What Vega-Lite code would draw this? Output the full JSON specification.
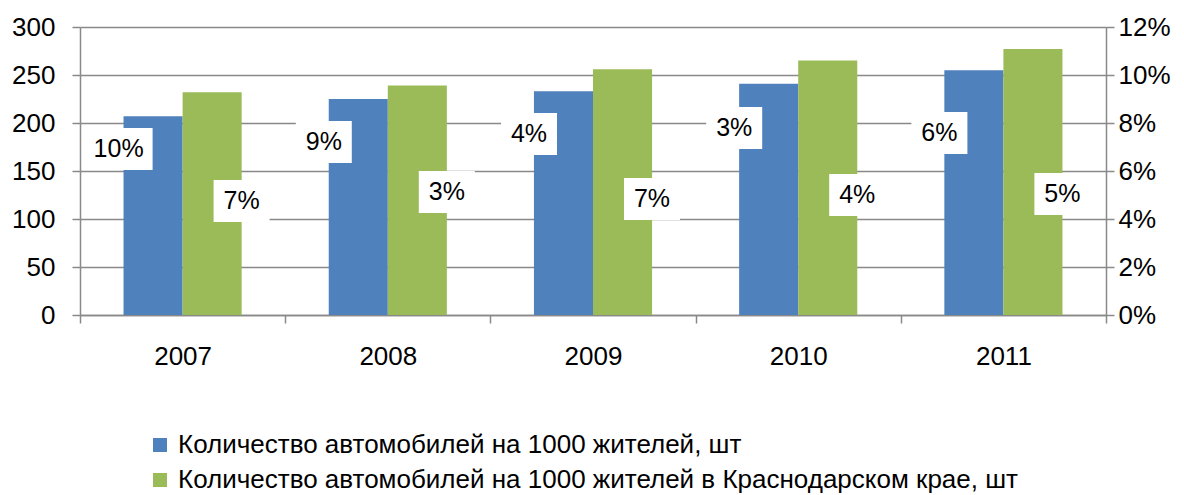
{
  "$schema": "https://vega.github.io/schema/vega-lite/v6.json",
  "autosize": {"type": "none"},
  "width": 1026,
  "height": 288,
  "padding": {"left": 80, "top": 27, "right": 78, "bottom": 180},
  "background": "white",
  "config": {
    "view": {"stroke": null},
    "font": "Liberation Sans",
    "axis": {
      "labelFont": "Liberation Sans",
      "labelFontSize": 26,
      "labelColor": "#000000",
      "domainColor": "#898989",
      "domainWidth": 1.5,
      "tickColor": "#898989",
      "tickWidth": 1.5,
      "tickSize": 8,
      "gridColor": "#898989",
      "gridWidth": 1.5,
      "title": null
    }
  },
  "data": {
    "values": [
      {"year": "2007", "series": "Количество автомобилей на 1000 жителей, шт", "value": 207, "growth": "10%", "level": 0.0692},
      {"year": "2007", "series": "Количество автомобилей на 1000 жителей в Краснодарском крае, шт", "value": 232, "growth": "7%", "level": 0.0475},
      {"year": "2008", "series": "Количество автомобилей на 1000 жителей, шт", "value": 225, "growth": "9%", "level": 0.0721},
      {"year": "2008", "series": "Количество автомобилей на 1000 жителей в Краснодарском крае, шт", "value": 239, "growth": "3%", "level": 0.0513},
      {"year": "2009", "series": "Количество автомобилей на 1000 жителей, шт", "value": 233, "growth": "4%", "level": 0.0754},
      {"year": "2009", "series": "Количество автомобилей на 1000 жителей в Краснодарском крае, шт", "value": 256, "growth": "7%", "level": 0.0483},
      {"year": "2010", "series": "Количество автомобилей на 1000 жителей, шт", "value": 241, "growth": "3%", "level": 0.0779},
      {"year": "2010", "series": "Количество автомобилей на 1000 жителей в Краснодарском крае, шт", "value": 265, "growth": "4%", "level": 0.05},
      {"year": "2011", "series": "Количество автомобилей на 1000 жителей, шт", "value": 255, "growth": "6%", "level": 0.0758},
      {"year": "2011", "series": "Количество автомобилей на 1000 жителей в Краснодарском крае, шт", "value": 277, "growth": "5%", "level": 0.0504}
    ]
  },
  "encoding": {
    "x": {
      "field": "year",
      "type": "nominal",
      "scale": {"paddingInner": 0, "paddingOuter": 0},
      "axis": {"labelAngle": 0, "tickBand": "extent", "labelPadding": 20, "domain": true}
    }
  },
  "layer": [
    {
      "mark": {"type": "bar"},
      "encoding": {
        "xOffset": {
          "field": "series",
          "type": "nominal",
          "scale": {"domain": ["Количество автомобилей на 1000 жителей, шт", "Количество автомобилей на 1000 жителей в Краснодарском крае, шт"], "paddingInner": 0, "paddingOuter": 0.7373}
        },
        "y": {
          "field": "value",
          "type": "quantitative",
          "scale": {"domain": [0, 300], "nice": false},
          "axis": {"orient": "left", "values": [0, 50, 100, 150, 200, 250, 300], "grid": true, "labelPadding": 17, "domain": true}
        },
        "color": {
          "field": "series",
          "type": "nominal",
          "scale": {
            "domain": ["Количество автомобилей на 1000 жителей, шт", "Количество автомобилей на 1000 жителей в Краснодарском крае, шт"],
            "range": ["#4F81BD", "#9BBB59"]
          },
          "legend": {
            "orient": "none",
            "legendX": 67,
            "legendY": 405,
            "title": null,
            "direction": "vertical",
            "symbolType": "square",
            "symbolSize": 196,
            "symbolStrokeWidth": 0,
            "labelFont": "Liberation Sans",
            "labelFontSize": 26,
            "labelColor": "#000000",
            "labelLimit": 0,
            "labelOffset": 5,
            "rowPadding": 9
          }
        }
      }
    },
    {
      "encoding": {
        "y": {
          "field": "level",
          "type": "quantitative",
          "scale": {"domain": [0, 0.12], "nice": false},
          "axis": {"orient": "right", "format": ".0%", "values": [0, 0.02, 0.04, 0.06, 0.08, 0.1, 0.12], "grid": false, "labelPadding": 4, "domain": true}
        }
      },
      "layer": [
        {
          "transform": [{"filter": "datum.series == 'Количество автомобилей на 1000 жителей, шт'"}],
          "mark": {"type": "point", "filled": true, "fill": "white", "opacity": 1, "strokeWidth": 0, "xOffset": -64},
          "encoding": {
            "shape": {"condition": {"test": "length(datum.growth) > 2", "value": "M-1,-0.6176H1V0.6176H-1Z"}, "value": "M-1,-0.75H1V0.75H-1Z"},
            "size": {"condition": {"test": "length(datum.growth) > 2", "value": 4624}, "value": 3136}
          }
        },
        {
          "transform": [{"filter": "datum.series != 'Количество автомобилей на 1000 жителей, шт'"}],
          "mark": {"type": "point", "filled": true, "fill": "white", "opacity": 1, "strokeWidth": 0, "xOffset": 59},
          "encoding": {
            "shape": {"condition": {"test": "length(datum.growth) > 2", "value": "M-1,-0.6176H1V0.6176H-1Z"}, "value": "M-1,-0.75H1V0.75H-1Z"},
            "size": {"condition": {"test": "length(datum.growth) > 2", "value": 4624}, "value": 3136}
          }
        },
        {
          "transform": [{"filter": "datum.series == 'Количество автомобилей на 1000 жителей, шт'"}],
          "mark": {"type": "text", "font": "Liberation Sans", "fontSize": 25, "color": "#000000", "align": "center", "baseline": "middle", "xOffset": -64},
          "encoding": {"text": {"field": "growth"}}
        },
        {
          "transform": [{"filter": "datum.series != 'Количество автомобилей на 1000 жителей, шт'"}],
          "mark": {"type": "text", "font": "Liberation Sans", "fontSize": 25, "color": "#000000", "align": "center", "baseline": "middle", "xOffset": 59},
          "encoding": {"text": {"field": "growth"}}
        }
      ]
    }
  ],
  "resolve": {"scale": {"y": "independent"}}
}
